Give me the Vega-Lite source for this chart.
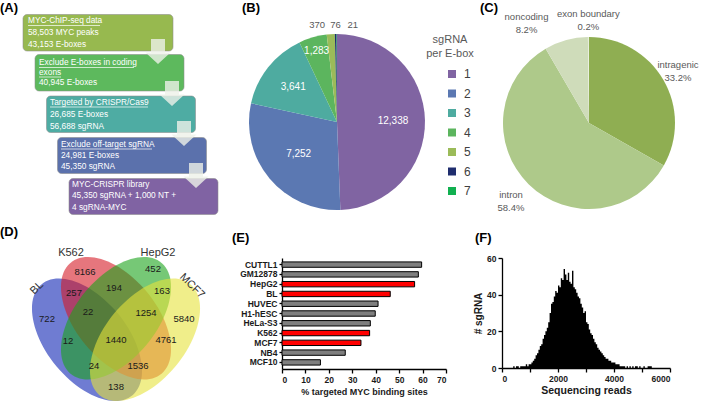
{
  "$schema": "https://vega.github.io/schema/vega-lite/v6.json",
  "padding": 0,
  "background": "white",
  "columns": 3,
  "spacing": {"row": 13, "column": 56},
  "bounds": "flush",
  "align": "each",
  "resolve": {"scale": {"color": "independent"}, "legend": {"color": "independent"}},
  "config": {
    "font": "Liberation Sans",
    "view": {"stroke": null},
    "title": {"font": "Liberation Sans", "fontSize": 13, "fontWeight": "bold", "anchor": "start", "frame": "group", "color": "black"},
    "axis": {"domainColor": "black", "domainWidth": 1.3, "tickColor": "black", "tickWidth": 1.3, "tickSize": 4, "labelFont": "Liberation Sans", "labelFontWeight": "bold", "labelFontSize": 8.5, "labelColor": "#1a1a1a", "titleFont": "Liberation Sans", "titleFontWeight": "bold", "titleFontSize": 9.5, "titleColor": "#1a1a1a", "grid": false, "labelPadding": 2}
  },
  "datasets": {
    "boxes": [
      {"step": "s1", "x1": 23, "x2": 173, "y1": 13.5, "y2": 50},
      {"step": "s2", "x1": 35, "x2": 184, "y1": 53.5, "y2": 90},
      {"step": "s3", "x1": 46.5, "x2": 195.5, "y1": 95, "y2": 131.5},
      {"step": "s4", "x1": 57.5, "x2": 206.5, "y1": 136.5, "y2": 172.5},
      {"step": "s5", "x1": 69, "x2": 218, "y1": 177.5, "y2": 213.5}
    ],
    "boxtext": [
      {"x": 28, "y": 20, "t": "MYC-ChIP-seq data"},
      {"x": 28, "y": 32, "t": "58,503 MYC peaks"},
      {"x": 28, "y": 43.5, "t": "43,153 E-boxes"},
      {"x": 39, "y": 62, "t": "Exclude E-boxes in coding"},
      {"x": 39, "y": 71.5, "t": "exons"},
      {"x": 39, "y": 82, "t": "40,945 E-boxes"},
      {"x": 50, "y": 101.5, "t": "Targeted by CRISPR/Cas9"},
      {"x": 50, "y": 113.5, "t": "26,685 E-boxes"},
      {"x": 50, "y": 125.5, "t": "56,688 sgRNA"},
      {"x": 61, "y": 143.5, "t": "Exclude off-target sgRNA"},
      {"x": 61, "y": 155, "t": "24,981 E-boxes"},
      {"x": 61, "y": 166, "t": "45,350 sgRNA"},
      {"x": 72, "y": 184, "t": "MYC-CRISPR library"},
      {"x": 72, "y": 195, "t": "45,350 sgRNA + 1,000 NT +"},
      {"x": 72, "y": 206.5, "t": "4 sgRNA-MYC"}
    ],
    "underlines": [
      {"x": 28, "x2": 100, "y": 24.5},
      {"x": 39, "x2": 134, "y": 66.5},
      {"x": 39, "x2": 61, "y": 76},
      {"x": 50, "x2": 148, "y": 106},
      {"x": 61, "x2": 152, "y": 148}
    ],
    "arrows": [
      {"x": 158, "y": 50.5},
      {"x": 172, "y": 92.5},
      {"x": 184, "y": 132.5},
      {"x": 196, "y": 174.5}
    ],
    "sgrna": [
      {"k": 1, "n": 12338},
      {"k": 2, "n": 7252},
      {"k": 3, "n": 3641},
      {"k": 4, "n": 1283},
      {"k": 5, "n": 370},
      {"k": 6, "n": 76},
      {"k": 7, "n": 21}
    ],
    "regions": [
      {"region": "intragenic", "frac": 0.332, "o": 1},
      {"region": "intron", "frac": 0.584, "o": 2},
      {"region": "noncoding", "frac": 0.082, "o": 3},
      {"region": "exon boundary", "frac": 0.002, "o": 4}
    ],
    "venn": [
      {"set": "BL", "cx": 87, "cy": 81.7},
      {"set": "K562", "cx": 116, "cy": 60.2},
      {"set": "HepG2", "cx": 116, "cy": 60.2},
      {"set": "MCF7", "cx": 145, "cy": 81.7}
    ],
    "vlabels": [
      {"set": "BL", "x": 37, "y": 30},
      {"set": "K562", "x": 71, "y": -5},
      {"set": "HepG2", "x": 158, "y": -5},
      {"set": "MCF7", "x": 192, "y": 28}
    ],
    "vcounts": [
      {"n": 8166, "x": 85, "y": 14},
      {"n": 452, "x": 153, "y": 11},
      {"n": 257, "x": 74, "y": 35},
      {"n": 194, "x": 114, "y": 30},
      {"n": 163, "x": 162, "y": 33},
      {"n": 722, "x": 47, "y": 61},
      {"n": 22, "x": 88, "y": 54},
      {"n": 1254, "x": 146, "y": 55},
      {"n": 5840, "x": 184, "y": 61},
      {"n": 12, "x": 68, "y": 83},
      {"n": 1440, "x": 116, "y": 82},
      {"n": 4761, "x": 166, "y": 82},
      {"n": 24, "x": 94, "y": 108},
      {"n": 1536, "x": 138, "y": 108},
      {"n": 138, "x": 116, "y": 129}
    ],
    "cells": [
      {"cell": "CUTTL1", "pct": 59.6, "lib": "no"},
      {"cell": "GM12878", "pct": 58.2, "lib": "no"},
      {"cell": "HepG2", "pct": 56.6, "lib": "yes"},
      {"cell": "BL", "pct": 46.2, "lib": "yes"},
      {"cell": "HUVEC", "pct": 41.0, "lib": "no"},
      {"cell": "H1-hESC", "pct": 39.8, "lib": "no"},
      {"cell": "HeLa-S3", "pct": 37.7, "lib": "no"},
      {"cell": "K562", "pct": 37.4, "lib": "yes"},
      {"cell": "MCF7", "pct": 33.7, "lib": "yes"},
      {"cell": "NB4", "pct": 27.0, "lib": "no"},
      {"cell": "MCF10", "pct": 16.4, "lib": "no"}
    ],
    "hist": [
      {"reads": 400, "count": 1}, {"reads": 450, "count": 0}, {"reads": 500, "count": 1}, {"reads": 550, "count": 1},
      {"reads": 600, "count": 0}, {"reads": 650, "count": 1}, {"reads": 700, "count": 1}, {"reads": 750, "count": 1},
      {"reads": 800, "count": 1}, {"reads": 850, "count": 2}, {"reads": 900, "count": 1}, {"reads": 950, "count": 2},
      {"reads": 1000, "count": 2}, {"reads": 1050, "count": 3}, {"reads": 1100, "count": 4}, {"reads": 1150, "count": 5},
      {"reads": 1200, "count": 7}, {"reads": 1250, "count": 8}, {"reads": 1300, "count": 10}, {"reads": 1350, "count": 12},
      {"reads": 1400, "count": 13}, {"reads": 1450, "count": 16}, {"reads": 1500, "count": 18}, {"reads": 1550, "count": 20},
      {"reads": 1600, "count": 22}, {"reads": 1650, "count": 25}, {"reads": 1700, "count": 30}, {"reads": 1750, "count": 35},
      {"reads": 1800, "count": 36}, {"reads": 1850, "count": 39}, {"reads": 1900, "count": 42}, {"reads": 1950, "count": 41},
      {"reads": 2000, "count": 45}, {"reads": 2050, "count": 44}, {"reads": 2100, "count": 49}, {"reads": 2150, "count": 48},
      {"reads": 2200, "count": 54}, {"reads": 2250, "count": 51}, {"reads": 2300, "count": 48}, {"reads": 2350, "count": 52},
      {"reads": 2400, "count": 47}, {"reads": 2450, "count": 46}, {"reads": 2500, "count": 53}, {"reads": 2550, "count": 44},
      {"reads": 2600, "count": 43}, {"reads": 2650, "count": 41}, {"reads": 2700, "count": 39}, {"reads": 2750, "count": 38},
      {"reads": 2800, "count": 35}, {"reads": 2850, "count": 33}, {"reads": 2900, "count": 30}, {"reads": 2950, "count": 31},
      {"reads": 3000, "count": 25}, {"reads": 3050, "count": 24}, {"reads": 3100, "count": 21}, {"reads": 3150, "count": 19},
      {"reads": 3200, "count": 18}, {"reads": 3250, "count": 16}, {"reads": 3300, "count": 14}, {"reads": 3350, "count": 13},
      {"reads": 3400, "count": 11}, {"reads": 3450, "count": 10}, {"reads": 3500, "count": 9}, {"reads": 3550, "count": 8},
      {"reads": 3600, "count": 7}, {"reads": 3650, "count": 6}, {"reads": 3700, "count": 5}, {"reads": 3750, "count": 5},
      {"reads": 3800, "count": 4}, {"reads": 3850, "count": 4}, {"reads": 3900, "count": 3}, {"reads": 3950, "count": 3},
      {"reads": 4000, "count": 3}, {"reads": 4050, "count": 2}, {"reads": 4100, "count": 2}, {"reads": 4150, "count": 2},
      {"reads": 4200, "count": 1}, {"reads": 4250, "count": 1}, {"reads": 4300, "count": 1}, {"reads": 4350, "count": 1},
      {"reads": 4400, "count": 0}, {"reads": 4450, "count": 1}, {"reads": 4500, "count": 0}, {"reads": 4550, "count": 1},
      {"reads": 4600, "count": 0}, {"reads": 4650, "count": 1}, {"reads": 4700, "count": 0}, {"reads": 4750, "count": 1},
      {"reads": 4800, "count": 1}, {"reads": 4850, "count": 0}, {"reads": 4900, "count": 1}, {"reads": 4950, "count": 0},
      {"reads": 5000, "count": 0}, {"reads": 5050, "count": 1}, {"reads": 5100, "count": 0}, {"reads": 5150, "count": 0},
      {"reads": 5200, "count": 1}, {"reads": 5250, "count": 1}, {"reads": 5300, "count": 1}, {"reads": 5350, "count": 0},
      {"reads": 5400, "count": 0}
    ]
  },
  "concat": [
    {
      "width": 226, "height": 244,
      "title": {"text": "(A)", "offset": -14},
      "layer": [
        {
          "data": {"name": "boxes"},
          "mark": {"type": "rect", "cornerRadius": 4, "stroke": "#8c8c8c", "strokeWidth": 0.8, "strokeOpacity": 0.7},
          "encoding": {
            "x": {"field": "x1", "type": "quantitative", "scale": {"domain": [0, 226], "nice": false, "zero": false}, "axis": null},
            "x2": {"field": "x2"},
            "y": {"field": "y1", "type": "quantitative", "scale": {"domain": [0, 244], "reverse": true, "nice": false, "zero": false}, "axis": null},
            "y2": {"field": "y2"},
            "color": {"field": "step", "type": "nominal", "scale": {"domain": ["s1", "s2", "s3", "s4", "s5"], "range": ["#97b94f", "#5db95d", "#4eaca3", "#5b71ac", "#8063a3"]}, "legend": null}
          }
        },
        {
          "data": {"name": "arrows"},
          "mark": {"type": "point", "shape": "M -7 -12.5 L 7 -12.5 L 7 1 L 12.5 1 L 0 12.5 L -12.5 1 L -7 1 Z", "size": 4, "filled": true, "color": "#eef1e8", "opacity": 0.8, "strokeWidth": 0},
          "encoding": {
            "x": {"field": "x", "type": "quantitative"},
            "y": {"field": "y", "type": "quantitative"}
          }
        },
        {
          "data": {"name": "boxtext"},
          "mark": {"type": "text", "align": "left", "baseline": "middle", "fontSize": 8.3, "color": "white"},
          "encoding": {
            "x": {"field": "x", "type": "quantitative"},
            "y": {"field": "y", "type": "quantitative"},
            "text": {"field": "t"}
          }
        },
        {
          "data": {"name": "underlines"},
          "mark": {"type": "rule", "color": "white", "strokeWidth": 0.7},
          "encoding": {
            "x": {"field": "x", "type": "quantitative"},
            "x2": {"field": "x2"},
            "y": {"field": "y", "type": "quantitative"}
          }
        }
      ]
    },
    {
      "width": 110, "height": 242,
      "title": {"text": "(B)", "offset": -14, "dx": -40},
      "data": {"name": "sgrna"},
      "encoding": {
        "theta": {"field": "n", "type": "quantitative", "stack": true},
        "order": {"field": "k", "type": "quantitative"}
      },
      "layer": [
        {
          "mark": {"type": "arc", "outerRadius": 88},
          "encoding": {
            "color": {"field": "k", "type": "nominal",
              "scale": {"domain": [1, 2, 3, 4, 5, 6, 7], "range": ["#8064a2", "#5b78b2", "#4eaba0", "#5cb55e", "#9bbb59", "#1f2d6e", "#11b050"]},
              "legend": {"title": ["sgRNA", "per E-box"], "orient": "none", "legendX": 144, "legendY": 33, "titleFont": "Liberation Sans", "titleFontSize": 11, "titleFontWeight": "normal", "titleColor": "#595959", "titleAnchor": "middle", "titleAlign": "center", "titleLineHeight": 14, "titlePadding": 9, "labelFont": "Liberation Sans", "labelFontSize": 12, "labelColor": "#404040", "symbolType": "square", "symbolSize": 64, "symbolStrokeWidth": 0, "rowPadding": 7.5, "symbolOffset": 17, "labelOffset": 6, "padding": 0}
            }
          }
        },
        {
          "mark": {"type": "text", "radius": 56, "color": "white", "fontSize": 10, "align": "center"},
          "encoding": {"text": {"condition": {"test": "datum.k == 1 || datum.k == 3", "field": "n", "type": "quantitative", "format": ","}, "value": ""}}
        },
        {
          "mark": {"type": "text", "radius": 50, "color": "white", "fontSize": 10, "align": "center"},
          "encoding": {"text": {"condition": {"test": "datum.k == 2", "field": "n", "type": "quantitative", "format": ","}, "value": ""}}
        },
        {
          "mark": {"type": "text", "radius": 74, "color": "white", "fontSize": 10, "align": "center"},
          "encoding": {"text": {"condition": {"test": "datum.k == 4", "field": "n", "type": "quantitative", "format": ","}, "value": ""}}
        },
        {
          "mark": {"type": "text", "radius": 97, "dx": -13, "color": "#595959", "fontSize": 9.5, "align": "center"},
          "encoding": {"text": {"condition": {"test": "datum.k == 5", "field": "n", "type": "quantitative", "format": ","}, "value": ""}}
        },
        {
          "mark": {"type": "text", "radius": 97, "color": "#595959", "fontSize": 9.5, "align": "center"},
          "encoding": {"text": {"condition": {"test": "datum.k == 6", "field": "n", "type": "quantitative", "format": ","}, "value": ""}}
        },
        {
          "mark": {"type": "text", "radius": 97, "dx": 16, "color": "#595959", "fontSize": 9.5, "align": "center"},
          "encoding": {"text": {"condition": {"test": "datum.k == 7", "field": "n", "type": "quantitative", "format": ","}, "value": ""}}
        }
      ]
    },
    {
      "width": 174, "height": 244,
      "title": {"text": "(C)", "offset": -14, "dx": -22},
      "data": {"name": "regions"},
      "encoding": {
        "theta": {"field": "frac", "type": "quantitative", "stack": true},
        "order": {"field": "o", "type": "quantitative"}
      },
      "layer": [
        {
          "mark": {"type": "arc", "outerRadius": 86},
          "encoding": {
            "color": {"field": "region", "type": "nominal", "scale": {"domain": ["intragenic", "intron", "noncoding", "exon boundary"], "range": ["#8fae52", "#aec98a", "#cfdcba", "#e6edda"]}, "legend": null}
          }
        },
        {
          "mark": {"type": "text", "radius": 103, "dy": -6.5, "color": "#595959", "fontSize": 9.5},
          "encoding": {"text": {"condition": {"test": "datum.region == 'intragenic' || datum.region == 'exon boundary'", "field": "region", "type": "nominal"}, "value": ""}}
        },
        {
          "mark": {"type": "text", "radius": 103, "dy": 6.5, "color": "#595959", "fontSize": 9.5},
          "encoding": {"text": {"condition": {"test": "datum.region == 'intragenic' || datum.region == 'exon boundary'", "field": "frac", "type": "quantitative", "format": ".1%"}, "value": ""}}
        },
        {
          "mark": {"type": "text", "radius": 111, "dy": -6.5, "color": "#595959", "fontSize": 9.5},
          "encoding": {"text": {"condition": {"test": "datum.region == 'intron'", "field": "region", "type": "nominal"}, "value": ""}}
        },
        {
          "mark": {"type": "text", "radius": 111, "dy": 6.5, "color": "#595959", "fontSize": 9.5},
          "encoding": {"text": {"condition": {"test": "datum.region == 'intron'", "field": "frac", "type": "quantitative", "format": ".1%"}, "value": ""}}
        },
        {
          "mark": {"type": "text", "radius": 103, "dx": -35, "dy": -6.5, "color": "#595959", "fontSize": 9.5},
          "encoding": {"text": {"condition": {"test": "datum.region == 'noncoding'", "field": "region", "type": "nominal"}, "value": ""}}
        },
        {
          "mark": {"type": "text", "radius": 103, "dx": -35, "dy": 6.5, "color": "#595959", "fontSize": 9.5},
          "encoding": {"text": {"condition": {"test": "datum.region == 'noncoding'", "field": "frac", "type": "quantitative", "format": ".1%"}, "value": ""}}
        }
      ]
    },
    {
      "width": 226, "height": 110,
      "title": {"text": "(D)", "offset": 8},
      "layer": [
        {
          "data": {"name": "venn"},
          "transform": [{"filter": "datum.set == 'BL' || datum.set == 'K562'"}],
          "mark": {"type": "point", "shape": "M 47.77 53.21 C 32.70 70.00 -0.91 59.79 -27.29 30.40 C -53.67 1.01 -62.84 -36.42 -47.77 -53.21 C -32.70 -70.00 0.91 -59.79 27.29 -30.40 C 53.67 -1.01 62.84 36.42 47.77 53.21 Z", "size": 4, "filled": true, "opacity": 0.6, "strokeWidth": 0},
          "encoding": {
            "x": {"field": "cx", "type": "quantitative", "scale": {"domain": [0, 226], "nice": false, "zero": false}, "axis": null},
            "y": {"field": "cy", "type": "quantitative", "scale": {"domain": [0, 110], "reverse": true, "nice": false, "zero": false}, "axis": null},
            "color": {"field": "set", "type": "nominal", "scale": {"domain": ["BL", "K562", "HepG2", "MCF7"], "range": ["#0f25b4", "#d51a26", "#1ba41a", "#e6e33c"]}, "legend": null}
          }
        },
        {
          "data": {"name": "venn"},
          "transform": [{"filter": "datum.set == 'HepG2' || datum.set == 'MCF7'"}],
          "mark": {"type": "point", "shape": "M -47.77 53.21 C -32.70 70.00 0.91 59.79 27.29 30.40 C 53.67 1.01 62.84 -36.42 47.77 -53.21 C 32.70 -70.00 -0.91 -59.79 -27.29 -30.40 C -53.67 -1.01 -62.84 36.42 -47.77 53.21 Z", "size": 4, "filled": true, "opacity": 0.6, "strokeWidth": 0},
          "encoding": {
            "x": {"field": "cx", "type": "quantitative"},
            "y": {"field": "cy", "type": "quantitative"},
            "color": {"field": "set", "type": "nominal"}
          }
        },
        {
          "data": {"name": "vcounts"},
          "mark": {"type": "text", "fontSize": 9.5, "color": "#1a1a1a"},
          "encoding": {
            "x": {"field": "x", "type": "quantitative"},
            "y": {"field": "y", "type": "quantitative"},
            "text": {"field": "n", "type": "quantitative", "format": "d"}
          }
        },
        {
          "data": {"name": "vlabels"},
          "transform": [{"filter": "datum.set == 'BL'"}],
          "mark": {"type": "text", "fontSize": 11, "color": "#333333", "angle": -45},
          "encoding": {
            "x": {"field": "x", "type": "quantitative"},
            "y": {"field": "y", "type": "quantitative"},
            "text": {"field": "set"}
          }
        },
        {
          "data": {"name": "vlabels"},
          "transform": [{"filter": "datum.set == 'MCF7'"}],
          "mark": {"type": "text", "fontSize": 11, "color": "#333333", "angle": 45},
          "encoding": {
            "x": {"field": "x", "type": "quantitative"},
            "y": {"field": "y", "type": "quantitative"},
            "text": {"field": "set"}
          }
        },
        {
          "data": {"name": "vlabels"},
          "transform": [{"filter": "datum.set == 'K562' || datum.set == 'HepG2'"}],
          "mark": {"type": "text", "fontSize": 11, "color": "#333333"},
          "encoding": {
            "x": {"field": "x", "type": "quantitative"},
            "y": {"field": "y", "type": "quantitative"},
            "text": {"field": "set"}
          }
        }
      ]
    },
    {
      "width": 164, "height": 111,
      "title": {"text": "(E)", "offset": 13, "dx": -50},
      "data": {"name": "cells"},
      "mark": {"type": "bar", "stroke": "black", "strokeWidth": 1},
      "encoding": {
        "y": {"field": "cell", "type": "nominal", "sort": null, "scale": {"paddingInner": 0.45, "paddingOuter": 0.4}, "axis": {"title": null, "tickSize": 3}},
        "x": {"field": "pct", "type": "quantitative", "scale": {"domain": [0, 70], "nice": false}, "axis": {"values": [0, 10, 20, 30, 40, 50, 60, 70], "title": "% targeted MYC binding sites", "titlePadding": 4, "titleFontSize": 9}},
        "color": {"field": "lib", "type": "nominal", "scale": {"domain": ["yes", "no"], "range": ["#ff0000", "#7f7f7f"]}, "legend": null}
      }
    },
    {
      "width": 168, "height": 110,
      "title": {"text": "(F)", "offset": 9, "dx": -27},
      "data": {"name": "hist"},
      "mark": {"type": "area", "interpolate": "step-after", "color": "black", "opacity": 1},
      "encoding": {
        "x": {"field": "reads", "type": "quantitative", "scale": {"domain": [0, 6000], "nice": false}, "axis": {"values": [0, 1000, 2000, 3000, 4000, 5000, 6000], "format": "d", "title": "Sequencing reads", "titlePadding": 3, "titleFontSize": 10.5}},
        "y": {"field": "count", "type": "quantitative", "scale": {"domain": [0, 60], "nice": false}, "axis": {"values": [0, 20, 40, 60], "title": "# sgRNA", "titlePadding": 3, "titleFontSize": 10}}
      }
    }
  ]
}
